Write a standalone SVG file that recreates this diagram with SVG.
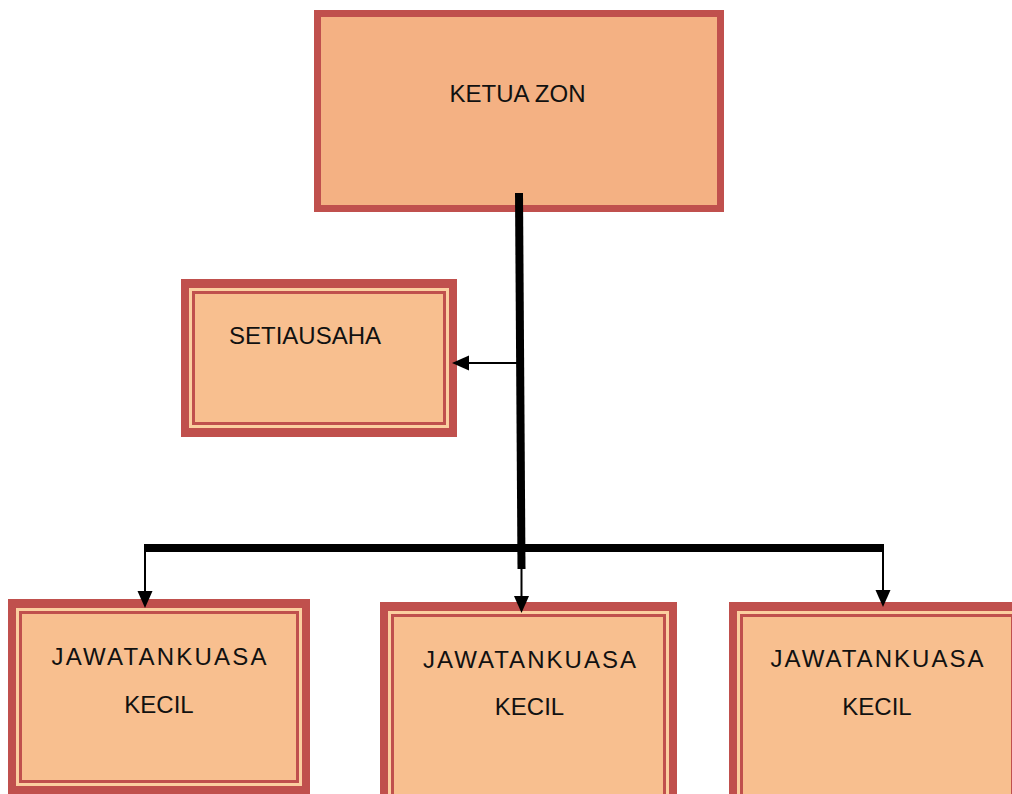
<svg xmlns="http://www.w3.org/2000/svg" width="1012" height="794" viewBox="0 0 1012 794">
  <defs>
    <style>
      .lbl { font-family: "Liberation Sans", Arial, sans-serif; font-size: 24px; fill: #111111; }
      .mid { text-anchor: middle; }
      .red { fill: #C0504D; }
      .light { fill: #FBCFA0; }
      .fill { fill: #F8BF8F; }
      .thick { stroke: #000; stroke-width: 8; fill: none; stroke-linecap: butt; }
      .thin { stroke: #000; stroke-width: 2; fill: none; }
    </style>
    <marker id="arrow" markerUnits="userSpaceOnUse" markerWidth="18" markerHeight="16" refX="7" refY="7.5" orient="auto">
      <path d="M0,0 L17,7.5 L0,15 Z" fill="#000"/>
    </marker>
  </defs>
  <rect width="1012" height="794" fill="#ffffff"/>

  <g id="ketua-zon">
    <rect x="317.5" y="13.5" width="403" height="195" fill="#F4B183" stroke="#C0504D" stroke-width="7"/>
    <text class="lbl mid" x="517.5" y="102">KETUA ZON</text>
  </g>

  <g id="setiausaha">
    <rect class="red" x="181" y="279" width="276" height="158"/>
    <rect class="light" x="189" y="288" width="260" height="140"/>
    <rect class="red" x="192" y="291" width="254" height="134"/>
    <rect class="fill" x="195" y="294" width="248" height="128"/>
    <text class="lbl" x="229" y="344">SETIAUSAHA</text>
  </g>

  <g id="jk-kiri">
    <rect class="red" x="8" y="599" width="302" height="195"/>
    <rect class="light" x="16" y="608" width="286" height="178"/>
    <rect class="red" x="19" y="611" width="280" height="172"/>
    <rect class="fill" x="22" y="614" width="274" height="166"/>
    <text class="lbl mid" x="159" y="665" textLength="215" lengthAdjust="spacing">JAWATANKUASA</text>
    <text class="lbl mid" x="159" y="713">KECIL</text>
  </g>

  <g id="jk-tengah">
    <rect class="red" x="380" y="602" width="297" height="210"/>
    <rect class="light" x="388" y="611" width="281" height="200"/>
    <rect class="red" x="391" y="614" width="275" height="200"/>
    <rect class="fill" x="394" y="617" width="269" height="200"/>
    <text class="lbl mid" x="529.5" y="668" textLength="213" lengthAdjust="spacing">JAWATANKUASA</text>
    <text class="lbl mid" x="529.5" y="715">KECIL</text>
  </g>

  <g id="jk-kanan">
    <rect class="red" x="729" y="602" width="296" height="210"/>
    <rect class="light" x="737" y="611" width="280" height="200"/>
    <rect class="red" x="740" y="614" width="274" height="200"/>
    <rect class="fill" x="743" y="617" width="268" height="200"/>
    <text class="lbl mid" x="877" y="667" textLength="213" lengthAdjust="spacing">JAWATANKUASA</text>
    <text class="lbl mid" x="877" y="715">KECIL</text>
  </g>

  <g id="connectors">
    <line class="thick" x1="519" y1="193" x2="521.5" y2="569"/>
    <line class="thick" x1="144" y1="548" x2="884" y2="548"/>
    <line class="thin" x1="518" y1="363" x2="462" y2="363" marker-end="url(#arrow)"/>
    <line class="thin" x1="145" y1="548" x2="145" y2="598" marker-end="url(#arrow)"/>
    <line class="thin" x1="521.5" y1="566" x2="521.5" y2="603" marker-end="url(#arrow)"/>
    <line class="thin" x1="883" y1="548" x2="883" y2="597" marker-end="url(#arrow)"/>
  </g>
</svg>
